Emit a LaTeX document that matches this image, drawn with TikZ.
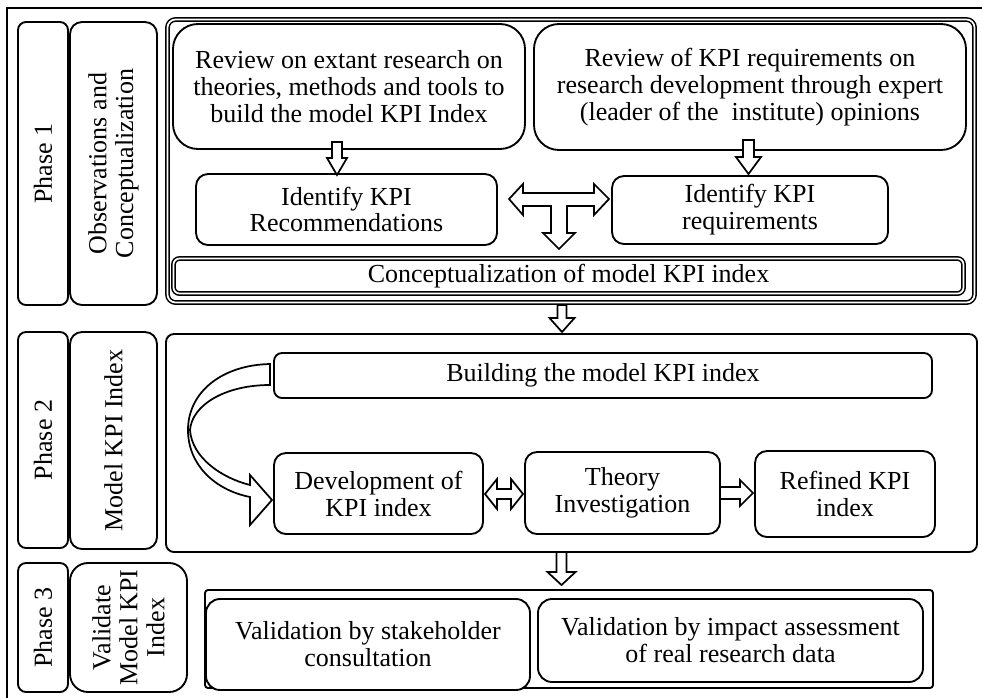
\documentclass[tikz,border=0pt]{standalone}
\usepackage{fontspec}
\setmainfont{Liberation Serif}
\usetikzlibrary{calc}
\tikzset{
  box/.style={draw, line width=1.4pt, fill=white, align=center, inner sep=0pt,
    font=\fontsize{19.5}{20.2}\selectfont},
  dbox/.style={draw, double, line width=1.15pt, double distance=1.3pt, inner sep=0pt,
    align=center, font=\fontsize{19.5}{20.2}\selectfont},
  barrow/.style={draw, line width=1.3pt, fill=white, line join=miter},
}
% vertical down block arrow: x, ytop, ytip, shaft half, head half, head length
\newcommand{\blkdown}[6]{%
  \draw[barrow] ({#1-#4},#2) -- ({#1-#4},{#3-#6}) -- ({#1-#5},{#3-#6}) -- (#1,#3)
    -- ({#1+#5},{#3-#6}) -- ({#1+#4},{#3-#6}) -- ({#1+#4},#2) -- cycle;}
\begin{document}
\begin{tikzpicture}[x=0.75pt,y=-0.75pt]
\useasboundingbox (0,0) rectangle (982,697);
\begin{scope}
\clip (0,0) rectangle (982,697);
\draw[line width=1.5pt] (7,710) -- (7,8) -- (990,8);

% ---------------- Phase 1 ----------------
\node[box, rotate=90, minimum width=283*0.75pt, minimum height=50*0.75pt, rounded corners=8*0.75pt] (p1lab) at (43,163.5) {Phase 1};
\node[box, rotate=90, minimum width=283*0.75pt, minimum height=87*0.75pt, rounded corners=12*0.75pt] (obs) at (113.5,163.5) {Observations and\\Conceptualization};
\node[dbox, fill=white, minimum width=807*0.75pt, minimum height=283*0.75pt, rounded corners=8*0.75pt] (p1main) at (571,161) {};
\node[box, minimum width=352*0.75pt, minimum height=125*0.75pt, rounded corners=25*0.75pt] (r1) at (349,86.5)
  {Review on extant research on\\theories, methods and tools to\\build the model KPI Index};
\node[box, minimum width=432*0.75pt, minimum height=126*0.75pt, rounded corners=25*0.75pt] (r2) at (750,87)
  {Review of KPI requirements on\\research development through expert\\(leader of the\ \ institute) opinions};
\node[box, minimum width=301*0.75pt, minimum height=71*0.75pt, rounded corners=12*0.75pt] (ir) at (346.5,209.5)
  {Identify KPI\\Recommendations};
\node[box, minimum width=276*0.75pt, minimum height=68*0.75pt, rounded corners=12*0.75pt] (iq) at (750,210)
  {Identify KPI\\requirements};
\node[dbox, fill=white, minimum width=790*0.75pt, minimum height=35*0.75pt, rounded corners=6*0.75pt] (conc) at (568.5,276)
  {Conceptualization of model KPI index};

\blkdown{337}{142}{175}{5}{10}{17}
\blkdown{748.5}{140}{174}{5.5}{12.5}{17}
% T-shaped arrow
\draw[barrow] (509,199) -- (523,184) -- (523,193) -- (594,193) -- (594,184) -- (609,199)
  -- (594,215) -- (594,206) -- (567,206) -- (567,233) -- (575,233) -- (559,249)
  -- (543,233) -- (551,233) -- (551,206) -- (523,206) -- (523,215) -- cycle;

\blkdown{562}{305}{332}{4.5}{12.5}{14}

% ---------------- Phase 2 ----------------
\node[box, rotate=90, minimum width=216*0.75pt, minimum height=50*0.75pt, rounded corners=8*0.75pt] (p2lab) at (43,440) {Phase 2};
\node[box, rotate=90, minimum width=217*0.75pt, minimum height=87*0.75pt, rounded corners=12*0.75pt] (mk) at (113.5,440.5) {Model KPI Index};
\node[box, minimum width=811*0.75pt, minimum height=218*0.75pt, rounded corners=8*0.75pt] (p2main) at (571.5,443) {};
\node[box, minimum width=658*0.75pt, minimum height=45*0.75pt, rounded corners=8*0.75pt] (build) at (603,375.5)
  {Building the model KPI index};
\node[box, minimum width=209*0.75pt, minimum height=81*0.75pt, rounded corners=12*0.75pt] (dev) at (378.5,493.5)
  {Development of\\KPI index};
\node[box, minimum width=195*0.75pt, minimum height=82*0.75pt, rounded corners=12*0.75pt] (theory) at (622.5,493)
  {Theory\\Investigation};
\node[box, minimum width=180*0.75pt, minimum height=86*0.75pt, rounded corners=12*0.75pt] (refined) at (845,494)
  {Refined KPI\\index};

% curved arrow
\draw[barrow] (270,364) .. controls (222,365) and (188,392) .. (188,430)
  .. controls (188,465) and (215,490) .. (250,497) -- (250,525) -- (272,500)
  -- (250,475) -- (250,485) .. controls (222,478) and (192,458) .. (190,430)
  .. controls (192,405) and (225,385) .. (270,385) -- cycle;
% double arrow dev <-> theory
\draw[barrow] (485,494) -- (497,479) -- (497,489) -- (511,489) -- (511,479) -- (523,494)
  -- (511,509) -- (511,499) -- (497,499) -- (497,509) -- cycle;
% arrow theory -> refined
\draw[barrow] (720,487) -- (740,487) -- (740,480) -- (753,493) -- (740,506) -- (740,499) -- (720,499) -- cycle;

\blkdown{561.5}{552}{585}{5}{14}{13}

% ---------------- Phase 3 ----------------
\node[box, rotate=90, minimum width=129*0.75pt, minimum height=50*0.75pt, rounded corners=8*0.75pt] (p3lab) at (43,627.5) {Phase 3};
\node[box, rotate=90, minimum width=129*0.75pt, minimum height=117*0.75pt, rounded corners=18*0.75pt] (vk) at (128.5,627.5) {Validate\\Model KPI\\Index};
\node[box, minimum width=728*0.75pt, minimum height=98*0.75pt, rounded corners=3*0.75pt] (p3main) at (569,639) {};
\node[box, minimum width=324*0.75pt, minimum height=91*0.75pt, rounded corners=14*0.75pt] (stake) at (368,644.5)
  {Validation by stakeholder\\consultation};
\node[box, minimum width=385*0.75pt, minimum height=83*0.75pt, rounded corners=14*0.75pt] (impact) at (730.5,640.5)
  {Validation by impact assessment\\of real research data};
\end{scope}
\end{tikzpicture}
\end{document}
